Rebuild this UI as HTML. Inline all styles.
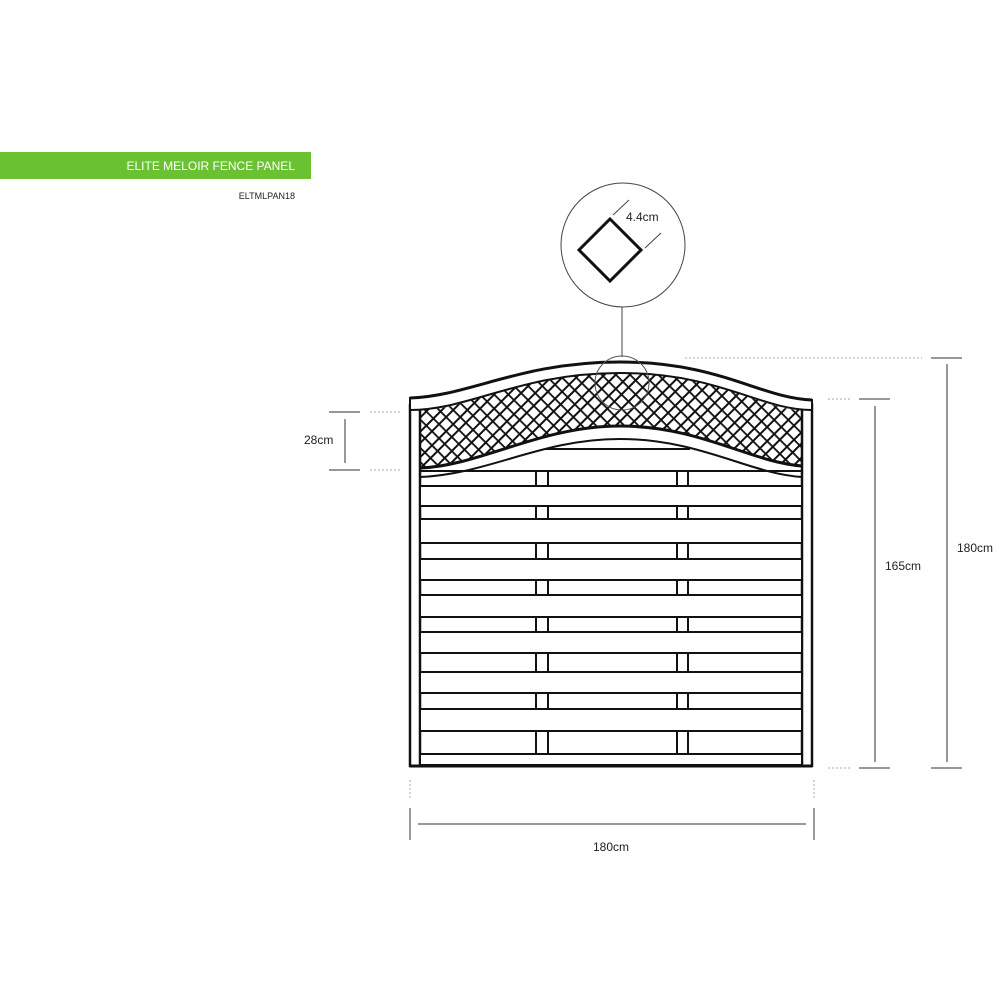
<!DOCTYPE html>
<html><head><meta charset="utf-8"><style>
html,body{margin:0;padding:0;background:#fff;width:1000px;height:1000px;overflow:hidden}
svg{display:block}
text{font-family:"Liberation Sans",sans-serif}
</style></head><body>
<svg width="1000" height="1000" viewBox="0 0 1000 1000" xmlns="http://www.w3.org/2000/svg">
<defs>
<pattern id="lat" patternUnits="userSpaceOnUse" width="18" height="10" patternTransform="rotate(45 620 420)">
<rect width="18" height="10" fill="#fff"/>
<rect x="0" y="0" width="2" height="10" fill="#111"/>
<rect x="8" y="0" width="2" height="10" fill="#111"/>
<rect x="0" y="0" width="18" height="1.8" fill="#111"/>
</pattern>
<clipPath id="latclip"><path d="M420,410 C470,410 520,373 620,373 C720,373 760,410 802,410 L802,466 C750,462 700,426 620,426 C540,426 480,466 420,468 Z"/></clipPath>
</defs>
<rect x="0" y="152" width="311" height="27" fill="#6ac232"/>
<text x="295" y="170" font-size="12" fill="#fff" text-anchor="end">ELITE MELOIR FENCE PANEL</text>
<text x="295" y="199" font-size="9" fill="#222" text-anchor="end">ELTMLPAN18</text>

<circle cx="623" cy="245" r="62" fill="none" stroke="#444" stroke-width="1"/>
<path d="M610,219 L641,250 L610,281 L579,250 Z" fill="none" stroke="#111" stroke-width="3"/>
<line x1="613" y1="215" x2="629" y2="200" stroke="#444" stroke-width="1"/>
<line x1="645" y1="248" x2="661" y2="233" stroke="#444" stroke-width="1"/>
<text x="626" y="221" font-size="12" fill="#222">4.4cm</text>
<line x1="622" y1="307" x2="622" y2="357" stroke="#444" stroke-width="1"/>

<rect x="415" y="365" width="395" height="110" fill="url(#lat)" clip-path="url(#latclip)"/>
<path d="M420,468 C480,466 540,426 620,426 C700,426 750,462 802,466" fill="none" stroke="#111" stroke-width="3"/>

<rect x="410" y="405" width="10" height="361" fill="#fff" stroke="#111" stroke-width="2.5"/>
<rect x="802" y="405" width="10" height="361" fill="#fff" stroke="#111" stroke-width="2.5"/>
<path d="M410,398 C470,396 520,362 620,362 C720,362 760,398 812,400 L812,410 C760,410 720,373 620,373 C520,373 470,410 410,410 Z" fill="#fff" stroke="#111" stroke-width="2"/>
<path d="M410,398 C470,396 520,362 620,362 C720,362 760,398 812,400" fill="none" stroke="#111" stroke-width="3"/>

<path d="M420,477 C490,474 540,439 620,439 C700,439 750,474 802,477" fill="none" stroke="#111" stroke-width="2"/>
<line x1="545" y1="449" x2="690" y2="449" stroke="#111" stroke-width="2"/>

<g fill="#fff" stroke="#111" stroke-width="2">
<rect x="536" y="471" width="12" height="283"/>
<rect x="677" y="471" width="11" height="283"/>
</g>
<g fill="#fff" stroke="#111" stroke-width="2">
<rect x="420" y="486" width="382" height="20"/>
<rect x="420" y="519" width="382" height="24"/>
<rect x="420" y="559" width="382" height="21"/>
<rect x="420" y="595" width="382" height="22"/>
<rect x="420" y="632" width="382" height="21"/>
<rect x="420" y="672" width="382" height="21"/>
<rect x="420" y="709" width="382" height="22"/>
<rect x="420" y="754" width="382" height="11"/>
</g>
<line x1="420" y1="471" x2="802" y2="471" stroke="#111" stroke-width="2"/>
<line x1="410" y1="766" x2="812" y2="766" stroke="#111" stroke-width="3"/>

<circle cx="622" cy="383" r="27" fill="none" stroke="#555" stroke-width="1"/>

<g stroke="#777" stroke-width="1.5" fill="none">
<line x1="329" y1="412" x2="360" y2="412"/>
<line x1="329" y1="470" x2="360" y2="470"/>
<line x1="345" y1="419" x2="345" y2="463"/>
<line x1="859" y1="399" x2="890" y2="399"/>
<line x1="859" y1="768" x2="890" y2="768"/>
<line x1="875" y1="406" x2="875" y2="762"/>
<line x1="931" y1="358" x2="962" y2="358"/>
<line x1="931" y1="768" x2="962" y2="768"/>
<line x1="947" y1="364" x2="947" y2="762"/>
<line x1="410" y1="808" x2="410" y2="840"/>
<line x1="814" y1="808" x2="814" y2="840"/>
<line x1="418" y1="824" x2="806" y2="824"/>
</g>
<g stroke="#aaa" stroke-width="1" stroke-dasharray="2,2" fill="none">
<line x1="370" y1="412" x2="402" y2="412"/>
<line x1="370" y1="470" x2="402" y2="470"/>
<line x1="685" y1="358" x2="922" y2="358"/>
<line x1="828" y1="399" x2="852" y2="399"/>
<line x1="828" y1="768" x2="852" y2="768"/>
<line x1="410" y1="780" x2="410" y2="800"/>
<line x1="814" y1="780" x2="814" y2="800"/>
</g>
<text x="304" y="444" font-size="12" fill="#222">28cm</text>
<text x="885" y="570" font-size="12" fill="#222">165cm</text>
<text x="957" y="552" font-size="12" fill="#222">180cm</text>
<text x="611" y="851" font-size="12" fill="#222" text-anchor="middle">180cm</text>
</svg>
</body></html>
